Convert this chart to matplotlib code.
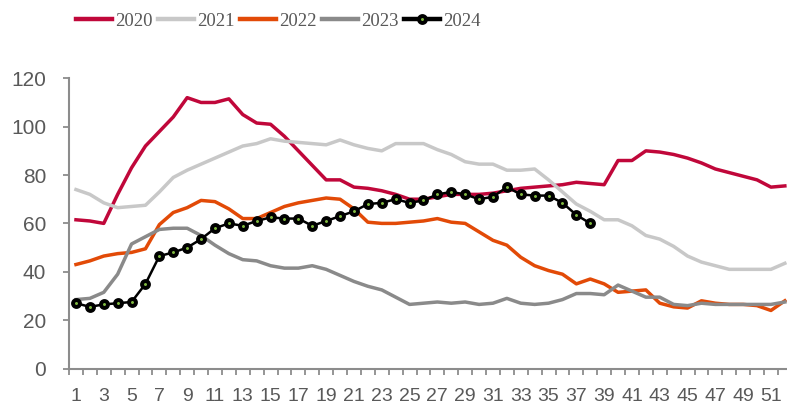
import matplotlib
matplotlib.use("Agg")
import matplotlib.pyplot as plt
from matplotlib.ticker import FixedLocator

# weekly series, week 1..52
weeks = list(range(1, 53))

y2020 = [61.5, 61, 60, 72, 83, 92, 98, 104, 112, 110, 110, 111.5, 105, 101.5, 101, 96,
         90, 84, 78, 78, 75, 74.5, 73.5, 72, 70, 70, 71, 72, 72, 72, 72.5, 73.5, 74.5,
         75, 75.5, 76, 77, 76.5, 76, 86, 86, 90, 89.5, 88.5, 87, 85, 82.5, 81, 79.5,
         78, 75, 75.5]
y2021 = [74, 72, 68.5, 66.5, 67, 67.5, 73, 79, 82, 84.5, 87, 89.5, 92, 93, 95, 94,
         93.5, 93, 92.5, 94.5, 92.5, 91, 90, 93, 93, 93, 90.5, 88.5, 85.5, 84.5, 84.5,
         82, 82, 82.5, 78, 73, 68, 65, 61.5, 61.5, 59, 55, 53.5, 50.5, 46.5, 44, 42.5,
         41, 41, 41, 41, 43.5]
y2022 = [43, 44.5, 46.5, 47.5, 48, 49.5, 59.5, 64.5, 66.5, 69.5, 69, 66, 62, 62, 64.5,
         67, 68.5, 69.5, 70.5, 70, 66, 60.5, 60, 60, 60.5, 61, 62, 60.5, 60, 56.5, 53,
         51, 46, 42.5, 40.5, 39, 35, 37, 35, 31.5, 32, 32.5, 27, 25.5, 25, 28, 27, 26.5,
         26.5, 26, 24, 28]
y2023 = [28.5, 29, 31.5, 39, 51.5, 54.5, 57.5, 58, 58, 55, 51, 47.5, 45, 44.5, 42.5,
         41.5, 41.5, 42.5, 41, 38.5, 36, 34, 32.5, 29.5, 26.5, 27, 27.5, 27, 27.5, 26.5,
         27, 29, 27, 26.5, 27, 28.5, 31, 31, 30.5, 34.5, 32, 29.5, 29.5, 26.5, 26, 27,
         26.5, 26.5, 26.5, 26.5, 26.5, 27.5]
y2024 = [27, 25.5, 26.5, 27, 27.5, 35, 46.5, 48, 50, 53.5, 58, 60, 59, 61, 62.5, 62,
         62, 59, 61, 63, 65, 68, 68.5, 70, 68.5, 69.5, 72, 73, 72, 70, 71, 75, 72, 71.5,
         71.5, 68.5, 63.5, 60]

fig = plt.figure(figsize=(7.87, 4.08), dpi=100)
ax = fig.add_axes([0.0877, 0.0968, 0.9184, 0.7113])

ax.plot(weeks, y2020, color="#c0073a", lw=2.5, label="2020")
ax.plot(weeks, y2021, color="#c8c8c8", lw=2.5, label="2021")
ax.plot(weeks, y2022, color="#e24a07", lw=2.5, label="2022")
ax.plot(weeks, y2023, color="#8a8a8a", lw=2.5, label="2023")
ax.plot(weeks[:len(y2024)], y2024, color="black", lw=1.8, marker="o", ms=5,
        mec="black", mew=2.8, mfc="#7fb83f", label="2024")

ax.set_xlim(0.5, 52.5)
ax.set_ylim(0, 120)
ax.set_yticks(range(0, 121, 20))

# ticks sit between categories, labels on every other week
ax.xaxis.set_major_locator(FixedLocator([w - 0.5 for w in weeks] + [52.5]))
ax.xaxis.set_minor_locator(FixedLocator(weeks[::2]))
ax.tick_params(axis="x", which="major", labelbottom=False, direction="out",
               length=4.5, width=1.3, color="#8c8c8c")
ax.tick_params(axis="x", which="minor", length=0, pad=14, labelsize=14,
               labelcolor="#595959")
ax.set_xticklabels([str(w) for w in weeks[::2]], minor=True,
                   family=["Liberation Sans Narrow", "Liberation Sans"])
ax.tick_params(axis="y", direction="out", length=4.5, width=1.3, color="#8c8c8c",
               pad=12, labelsize=15, labelcolor="#595959")
for t in ax.get_yticklabels():
    t.set_family("Liberation Sans")

for s in ["top", "right"]:
    ax.spines[s].set_visible(False)
for s in ["left", "bottom"]:
    ax.spines[s].set_color("#8c8c8c")
    ax.spines[s].set_linewidth(1.5)

leg = fig.legend(loc="center", bbox_to_anchor=(0.354, 0.948), ncol=5, frameon=False,
                 handlelength=1.92, handletextpad=0.16, columnspacing=0.29,
                 prop={"family": "Liberation Serif", "size": 13.5})
for t in leg.get_texts():
    t.set_color("#595959")
for h in leg.legend_handles:
    h.set_linewidth(3.2)

fig.savefig("out.png", dpi=100)
